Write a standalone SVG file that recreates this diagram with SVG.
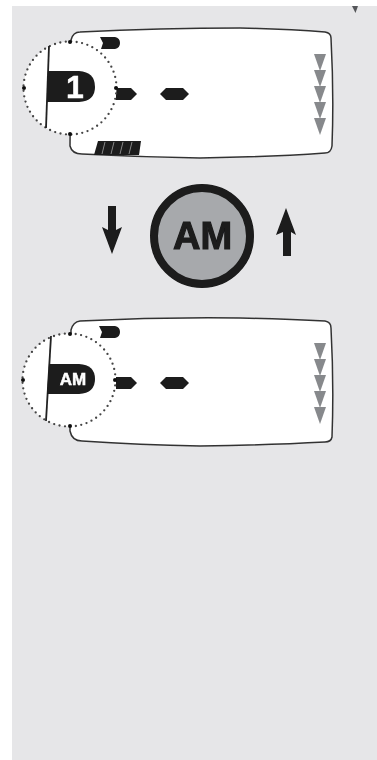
<svg xmlns="http://www.w3.org/2000/svg" width="377" height="760" viewBox="0 0 377 760">
  <defs>
    <filter id="soft" x="-5%" y="-5%" width="110%" height="110%"><feGaussianBlur stdDeviation="0.55"/></filter>
    <path id="tri" d="M0 0H12L6 17Z" fill="#87898c"/>
    <path id="hexA" d="M0 0H15L21 6L15 12H0Z" fill="#1a1a1a"/>
    <path id="hexB" d="M6 0H23L29 6L23 12H6L0 6Z" fill="#1a1a1a"/>
    <g id="tris"><use href="#tri" y="0"/><use href="#tri" y="16"/><use href="#tri" y="32"/><use href="#tri" y="48"/><use href="#tri" y="64"/></g>
  </defs>
  <style>
    .lcd{fill:#fff;stroke:#333;stroke-width:1.5}
    .lens{fill:#fff;stroke:#444;stroke-width:2.300;stroke-linecap:round;stroke-dasharray:0 5.500}
    .pin{fill:#111}
    .edge{stroke:#222;stroke-width:1.800;fill:none}
    .ink{fill:#1a1a1a}
    text{font-family:"Liberation Sans",Arial,sans-serif;font-weight:700;text-anchor:middle}
    .heavy{stroke-width:1.100;paint-order:stroke}
  </style>
  <rect width="377" height="760" fill="#fff"/>
  <rect x="12" y="6" width="365" height="754" fill="#e6e6e8"/>
  <g filter="url(#soft)">
    <path id="tick" d="M352 6H358L355.500 13Z" fill="#55575a"/>

    <g id="display-1">
      <path class="lcd" d="M71 40Q73 32 80 32Q160 28 240 28Q290 29 325 32Q331 33 331 38Q334 95 332 146Q331 153 325 153Q270 157 200 158Q140 157 82 154Q72 154 70 146Z"/>
      <path class="ink" d="M100 37H115Q120 38 120 43Q120 48 115 49H101L103 43Z"/>
      <path class="ink" d="M98 141H141L139 155H94Z"/>
      <path d="M105 142L102 154M114 142L111 154M123 142L120 154M132 142L129 154" stroke="#888" stroke-width="1" fill="none"/>
      <use href="#hexA" x="116" y="88"/>
      <use href="#hexB" x="160" y="88"/>
      <use href="#tris" x="314" y="54"/>
      <circle class="lens" cx="70" cy="88" r="46.500"/>
      <circle class="pin" cx="70" cy="42" r="2"/><circle class="pin" cx="70" cy="134" r="2"/><circle class="pin" cx="24" cy="88" r="2"/><circle class="pin" cx="116" cy="88" r="2"/>
      <path class="edge" d="M49 46L46 128"/>
      <path class="ink" d="M48 71H79Q95 72 95 87Q95 101 79 102H47Z"/>
      <text class="heavy" x="75" y="98" font-size="32" fill="#fff" stroke="#fff" style="stroke-width:.5">1</text>
    </g>

    <g id="arrow-down"><path class="ink" d="M108 206H116V230L122 227L112 254L102 227L108 230Z"/></g>

    <g id="am-button">
      <circle cx="202" cy="236" r="48" fill="#a7a9ac" stroke="#1a1a1a" stroke-width="8"/>
      <text class="heavy" x="202.500" y="249" font-size="38" fill="#1a1a1a" stroke="#1a1a1a">AM</text>
    </g>

    <g id="arrow-up"><path class="ink" d="M286 208L296 235L291 232V256H283V232L276 235Z"/></g>

    <g id="display-2">
      <path class="lcd" d="M71 330Q73 322 80 321Q160 317 240 318Q290 319 325 321Q331 322 331 328Q334 385 332 437Q331 442 325 442Q270 445 200 446Q140 445 82 441Q72 441 70 431Z"/>
      <path class="ink" d="M99 326H115Q120 327 120 332Q120 337 115 338H100L102 332Z"/>
      <use href="#hexA" x="116" y="377"/>
      <use href="#hexB" x="160" y="377"/>
      <use href="#tris" x="314" y="343"/>
      <circle class="lens" cx="69" cy="380" r="46.500"/>
      <circle class="pin" cx="70" cy="334" r="2"/><circle class="pin" cx="70" cy="426" r="2"/><circle class="pin" cx="23" cy="380" r="2"/><circle class="pin" cx="115" cy="380" r="2"/>
      <path class="edge" d="M51 336L46 421"/>
      <path class="ink" d="M49 364H79Q95 365 95 379Q95 393 79 394H47Z"/>
      <text class="heavy" x="73" y="385" font-size="17" fill="#fff" stroke="#fff" style="stroke-width:.5">AM</text>
    </g>
  </g>
</svg>
